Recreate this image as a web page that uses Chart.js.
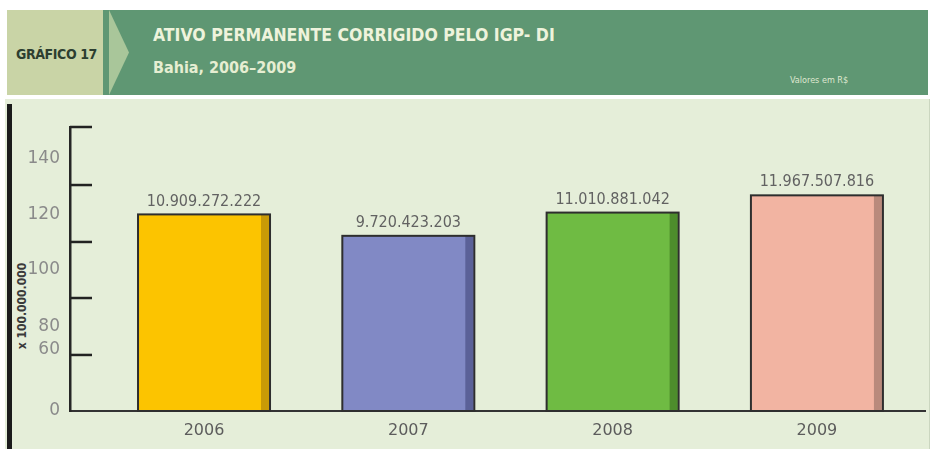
<!DOCTYPE html>
<html lang="pt-BR">
<head>
<meta charset="utf-8">
<title>Gráfico 17 - Ativo permanente</title>
<script src="https://cdn.jsdelivr.net/npm/chart.js@4.4.0/dist/chart.umd.min.js"></script>
<style>
    body { margin: 0; width: 933px; height: 449px; background: #fff; position: relative; overflow: hidden;
           font-family: 'DejaVu Sans', sans-serif; font-stretch: condensed; }
    #cabecalho { position: absolute; left: 7px; top: 10px; width: 921px; height: 85px; background: #5f9773; }
    #rotulo { position: absolute; left: 0; top: 0; width: 96px; height: 85px; background: #c9d4a6; }
    #rotulo span { position: absolute; left: 9px; top: 44px; transform: translateY(-50%); letter-spacing: -0.4px;
                   font-weight: bold; font-size: 14px; color: #2d3f30; white-space: nowrap; }
    #seta { position: absolute; left: 102px; top: 0; width: 20px; height: 85px; background: #a9c69a;
            clip-path: polygon(0 0, 100% 50%, 0 100%); }
    #titulo { position: absolute; left: 146px; top: 15px; font-weight: bold; font-size: 17.5px; color: #eef3dc; white-space: nowrap; }
    #subtitulo { position: absolute; left: 146px; top: 48px; font-weight: bold;
                 font-size: 16px; color: #e6eed2; white-space: nowrap; }
    #unidade { position: absolute; left: 783px; top: 65px; font-size: 9px; color: #dfe8d0; white-space: nowrap; }
    #painel { position: absolute; left: 5px; top: 99px; width: 924px; height: 350px; background: #e5eed9;
              border-right: 1px solid #cbd6c0; }
    #barraPreta { position: absolute; left: 7px; top: 104px; width: 5px; height: 345px; background: #1b1b1b; }
    #tituloY { position: absolute; left: 22px; top: 306px; transform: translate(-50%, -50%) rotate(-90deg);
               font-weight: bold; font-size: 12px; color: #3a3a3a; white-space: nowrap; }
    #grafico { position: absolute; left: 0; top: 99px; width: 933px; height: 350px; }
</style>
</head>
<body>
<div id="cabecalho">
    <div id="rotulo"><span>GRÁFICO 17</span></div>
    <div id="seta"></div>
    <div id="titulo">ATIVO PERMANENTE CORRIGIDO PELO IGP- DI</div>
    <div id="subtitulo">Bahia, 2006–2009</div>
    <div id="unidade">Valores em R$</div>
</div>
<div id="painel"></div>
<div id="barraPreta"></div>
<div id="tituloY">x 100.000.000</div>
<div id="grafico"><canvas id="cv" width="933" height="350"></canvas></div>

<script>
// Dados (valores em x 100.000.000)
const anos = ['2006', '2007', '2008', '2009'];
const valores = [109.09272222, 97.20423203, 110.10881042, 119.67507816];
const rotulosValores = ['10.909.272.222', '9.720.423.203', '11.010.881.042', '11.967.507.816'];

// Eixo Y do original: rótulos e marcas não coincidem
const ticksY = [0.5, 34, 46.7, 78.4, 108.9, 140];
const rotulosY = ['0', '60', '80', '100', '120', '140'];
const marcasY = [31.1, 62.7, 93.8, 125.4, 157.6];

const coresBarras = ['#fcc400', '#8189c5', '#6fbb43', '#f2b4a2'];
const coresSombra = ['#c99a06', '#5b6198', '#4d8d2c', '#b98a7c'];

const FONTE = '"DejaVu Sans", sans-serif';

// Sombra lateral + contorno das barras + valores
const barrasPlugin = {
    id: 'barras',
    afterDatasetsDraw(chart) {
        const c = chart.ctx;
        chart.getDatasetMeta(0).data.forEach((bar, i) => {
            const left = bar.x - bar.width / 2, right = bar.x + bar.width / 2;
            c.save();
            c.fillStyle = coresSombra[i];
            c.fillRect(right - 9, bar.y, 8, bar.base - bar.y);
            c.strokeStyle = '#2e2e2e';
            c.lineWidth = 2;
            c.strokeRect(left, bar.y, bar.width, bar.base - bar.y);
            c.fillStyle = '#626262';
            c.font = 'condensed 16px ' + FONTE;
            c.textAlign = 'center';
            c.textBaseline = 'bottom';
            c.fillText(rotulosValores[i], bar.x, bar.y - 5);
            c.restore();
        });
    },
    afterDraw(chart) {
        // marcas do eixo Y, para dentro do gráfico
        const c = chart.ctx, y = chart.scales.y, x0 = chart.chartArea.left;
        c.save();
        c.strokeStyle = '#222';
        c.lineWidth = 2.5;
        marcasY.forEach(v => {
            const py = y.getPixelForValue(v);
            c.beginPath();
            c.moveTo(x0, py);
            c.lineTo(x0 + 22, py);
            c.stroke();
        });
        c.restore();
    }
};

new Chart(document.getElementById('cv'), {
    type: 'bar',
    data: {
        datasets: [{
            data: valores.map((v, i) => ({ x: i, y: v })),
            backgroundColor: coresBarras,
            borderWidth: 0,
            barThickness: 132
        }]
    },
    options: {
        responsive: false,
        animation: false,
        layout: { padding: { top: 28, right: 8, left: 0, bottom: 0 } },
        plugins: { legend: { display: false }, tooltip: { enabled: false } },
        scales: {
            x: {
                type: 'linear',
                offset: false,
                min: -0.656,
                max: 3.529,
                grid: { display: false },
                border: { color: '#333', width: 2 },
                afterBuildTicks: s => { s.ticks = anos.map((a, i) => ({ value: i })); },
                afterFit: s => { s.height = 38; },
                ticks: {
                    padding: 2,
                    color: '#5c5c5c',
                    font: { family: FONTE, style: 'condensed', size: 16 },
                    callback: v => anos[v]
                }
            },
            y: {
                min: 0,
                max: 157.6,
                grid: { display: false },
                border: { color: '#262626', width: 2.5 },
                afterBuildTicks: s => { s.ticks = ticksY.map(v => ({ value: v })); },
                afterFit: s => { s.width = 70; },
                ticks: {
                    padding: 2,
                    color: '#8a8a8a',
                    font: { family: FONTE, style: 'condensed', size: 17 },
                    callback: (v, i) => rotulosY[i]
                }
            }
        }
    },
    plugins: [barrasPlugin]
});
</script>
</body>
</html>
